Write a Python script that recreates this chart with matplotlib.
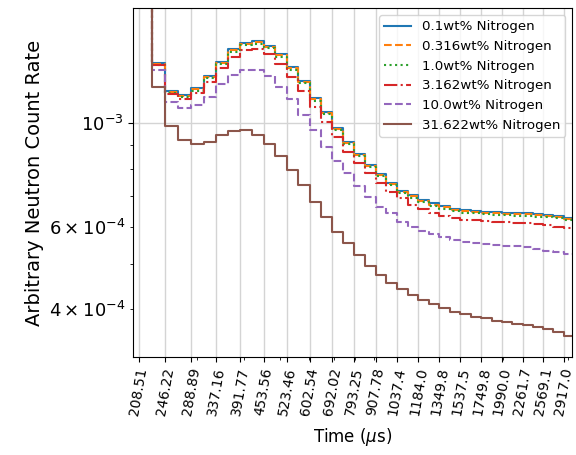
import numpy as np
import matplotlib
matplotlib.use('Agg')
import matplotlib.pyplot as plt
from matplotlib.ticker import NullFormatter

# %%
# Time bin edges (us) and the labelled edges on the x axis
bin_edges = [208.51, 226.6, 246.22, 266.7, 288.89, 312.1, 337.16, 363.4, 391.77, 421.5,
             453.56, 487.3, 523.46, 561.6, 602.54, 645.7, 692.02, 740.9, 793.25, 848.6,
             907.78, 970.4, 1037.4, 1108.3, 1184.0, 1264.2, 1349.8, 1440.6, 1537.5, 1640.2,
             1749.8, 1866.1, 1990.0, 2121.5, 2261.7, 2410.5, 2569.1, 2737.5, 2917.0, 3107.0]
tick_labels = ['208.51', '246.22', '288.89', '337.16', '391.77', '453.56', '523.46', '602.54',
               '692.02', '793.25', '907.78', '1037.4', '1184.0', '1349.8', '1537.5', '1749.8',
               '1990.0', '2261.7', '2569.1', '2917.0']

labels = ['0.1wt% Nitrogen', '0.316wt% Nitrogen', '1.0wt% Nitrogen',
          '3.162wt% Nitrogen', '10.0wt% Nitrogen', '31.622wt% Nitrogen']

# count rates per bin (x1e-3)
n_0p1 = [4.0, 1.348, 1.174, 1.150, 1.188, 1.263, 1.355, 1.440, 1.488, 1.500, 1.466, 1.405,
         1.318, 1.234, 1.131, 1.059, 0.9785, 0.9133, 0.8595, 0.8141, 0.7788, 0.7450, 0.7162,
         0.7005, 0.6851, 0.6734, 0.6635, 0.6560, 0.6512, 0.6489, 0.6467, 0.6451, 0.6435,
         0.6419, 0.6410, 0.6385, 0.6363, 0.6331, 0.6269]
n_0p316 = [4.0, 1.342, 1.168, 1.144, 1.183, 1.256, 1.348, 1.433, 1.481, 1.493, 1.459, 1.398,
           1.311, 1.228, 1.126, 1.054, 0.9740, 0.9088, 0.8555, 0.8101, 0.7750, 0.7413, 0.7126,
           0.6970, 0.6817, 0.6700, 0.6602, 0.6527, 0.6480, 0.6457, 0.6435, 0.6419, 0.6403,
           0.6387, 0.6378, 0.6353, 0.6331, 0.6300, 0.6238]
n_1p0 = [4.0, 1.332, 1.160, 1.136, 1.174, 1.248, 1.339, 1.423, 1.470, 1.482, 1.448, 1.388,
         1.302, 1.219, 1.118, 1.046, 0.9668, 0.9023, 0.8492, 0.8043, 0.7694, 0.7360, 0.7075,
         0.6920, 0.6768, 0.6652, 0.6555, 0.6481, 0.6433, 0.6411, 0.6389, 0.6373, 0.6357,
         0.6342, 0.6332, 0.6308, 0.6286, 0.6255, 0.6194]
n_3p162 = [4.0, 1.336, 1.154, 1.127, 1.159, 1.228, 1.312, 1.389, 1.435, 1.442, 1.405, 1.338,
           1.258, 1.173, 1.085, 1.008, 0.9361, 0.8693, 0.8210, 0.7815, 0.7439, 0.7109, 0.6909,
           0.6684, 0.6544, 0.6416, 0.6322, 0.6269, 0.6217, 0.6202, 0.6183, 0.6156, 0.6138,
           0.6126, 0.6108, 0.6087, 0.6057, 0.6006, 0.5959]
n_10p0 = [4.0, 1.301, 1.112, 1.077, 1.094, 1.140, 1.212, 1.269, 1.301, 1.301, 1.263, 1.198,
          1.126, 1.042, 0.9675, 0.8910, 0.8304, 0.7815, 0.7323, 0.6964, 0.6628, 0.6416, 0.6156,
          0.6006, 0.5889, 0.5785, 0.5700, 0.5625, 0.5578, 0.5534, 0.5507, 0.5474, 0.5453,
          0.5448, 0.5429, 0.5373, 0.5333, 0.5310, 0.5250]
n_31p622 = [4.0, 1.194, 0.9878, 0.9210, 0.9030, 0.9133, 0.9439, 0.9627, 0.9675, 0.9439, 0.9030,
            0.8511, 0.7943, 0.7377, 0.6794, 0.6310, 0.5860, 0.5542, 0.5211, 0.4948, 0.4733,
            0.4557, 0.4411, 0.4289, 0.4184, 0.4097, 0.4017, 0.3950, 0.3905, 0.3854, 0.3823,
            0.3778, 0.3760, 0.3721, 0.3690, 0.3659, 0.3618, 0.3574, 0.3509]

series = [n_0p1, n_0p316, n_1p0, n_3p162, n_10p0, n_31p622]
styles = ['-', '--', ':', '-.', '--', '-']

# %%
fig, ax = plt.subplots(figsize=(5.76, 4.55), dpi=100)
fig.subplots_adjust(left=0.231, right=0.993, top=0.982, bottom=0.216)

for vals, lab, ls in zip(series, labels, styles):
    y = np.array(vals + [vals[-1]]) * 1e-3
    ax.step(bin_edges, y, where='post', ls=ls, lw=1.5, label=lab)

ax.set_xscale('log')
ax.set_yscale('log')
ax.set_xlim(201.4, 3073)
ax.set_ylim(3.163e-4, 1.764e-3)

ax.set_xticks(bin_edges[0:39:2])
ax.set_xticklabels(tick_labels, rotation=80, fontsize=10)
ax.xaxis.set_minor_formatter(NullFormatter())
ax.tick_params(axis='y', which='both', labelsize=13)

ax.grid(True, which='major', color='#d4d4d4', lw=1.0)
ax.set_xlabel(r'Time ($\mu$s)', fontsize=12, labelpad=7)
ax.set_ylabel('Arbitrary Neutron Count Rate', fontsize=14)
ax.legend(loc='upper right', fontsize=9.6)

plt.savefig('out.png', dpi=100)
